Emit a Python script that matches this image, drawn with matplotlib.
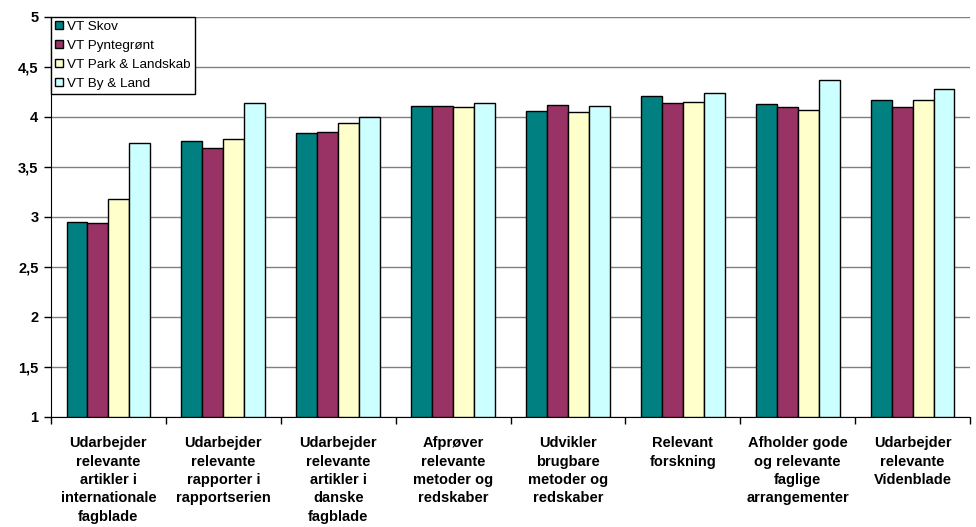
import matplotlib
matplotlib.use("Agg")
import matplotlib.pyplot as plt
import numpy as np

categories = [
    "Udarbejder\nrelevante\nartikler i\ninternationale\nfagblade",
    "Udarbejder\nrelevante\nrapporter i\nrapportserien",
    "Udarbejder\nrelevante\nartikler i\ndanske\nfagblade",
    "Afprøver\nrelevante\nmetoder og\nredskaber",
    "Udvikler\nbrugbare\nmetoder og\nredskaber",
    "Relevant\nforskning",
    "Afholder gode\nog relevante\nfaglige\narrangementer",
    "Udarbejder\nrelevante\nVidenblade",
]
series_names = ["VT Skov", "VT Pyntegrønt", "VT Park & Landskab", "VT By & Land"]
vt_skov = [2.95, 3.76, 3.84, 4.11, 4.06, 4.21, 4.13, 4.17]
vt_pynt = [2.94, 3.69, 3.85, 4.11, 4.12, 4.14, 4.10, 4.10]
vt_park = [3.18, 3.78, 3.94, 4.10, 4.05, 4.15, 4.07, 4.17]
vt_by = [3.74, 4.14, 4.00, 4.14, 4.11, 4.24, 4.37, 4.28]
colors = ["#008080", "#993366", "#FFFFCC", "#CCFFFF"]
yticks = [1, 1.5, 2, 2.5, 3, 3.5, 4, 4.5, 5]
ytick_labels = ["1", "1,5", "2", "2,5", "3", "3,5", "4", "4,5", "5"]

plt.rcParams["font.family"] = ["Liberation Sans", "DejaVu Sans"]

fig = plt.figure(figsize=(9.76, 5.27), dpi=100)
ax = fig.add_axes([51/976, 1 - 416.7/527, (970-51)/976, 400/527])

n = len(categories)
x = np.arange(n)
bw = 0.73 / 4
data = [vt_skov, vt_pynt, vt_park, vt_by]
for i, (vals, c, name) in enumerate(zip(data, colors, series_names)):
    ax.bar(x + (i - 1.5) * bw, np.array(vals) - 1, bottom=1, width=bw,
           color=c, edgecolor="black", linewidth=1.0, label=name, zorder=3)

ax.set_xlim(-0.5, n - 0.5)
ax.set_ylim(1, 5)
ax.set_yticks(yticks)
ax.set_yticklabels(ytick_labels, fontsize=10.5, fontweight="bold")
ax.yaxis.grid(True, color="#808080", linewidth=1.0, zorder=0)
ax.set_axisbelow(True)

ax.set_xticks(x)
ax.set_xticklabels(categories, fontsize=10.5, fontweight="bold", linespacing=1.4)
ax.set_xticks(np.arange(n + 1) - 0.5, minor=True)
ax.tick_params(axis="x", which="major", length=0, pad=14)
ax.tick_params(axis="x", which="minor", length=5, width=1, direction="out")
ax.tick_params(axis="y", length=5, width=1, direction="out", pad=4)

for s in ["top", "right"]:
    ax.spines[s].set_visible(False)
ax.spines["left"].set_color("black")
ax.spines["bottom"].set_color("black")

leg = ax.legend(loc="upper left", bbox_to_anchor=(0, 1), borderaxespad=0,
                fontsize=9.7, frameon=True, fancybox=False, framealpha=1,
                edgecolor="black", handlelength=0.6, handleheight=0.6,
                handletextpad=0.3, labelspacing=0.52, borderpad=0.3)
leg.get_frame().set_linewidth(1.0)

fig.savefig("out.png", dpi=100)
